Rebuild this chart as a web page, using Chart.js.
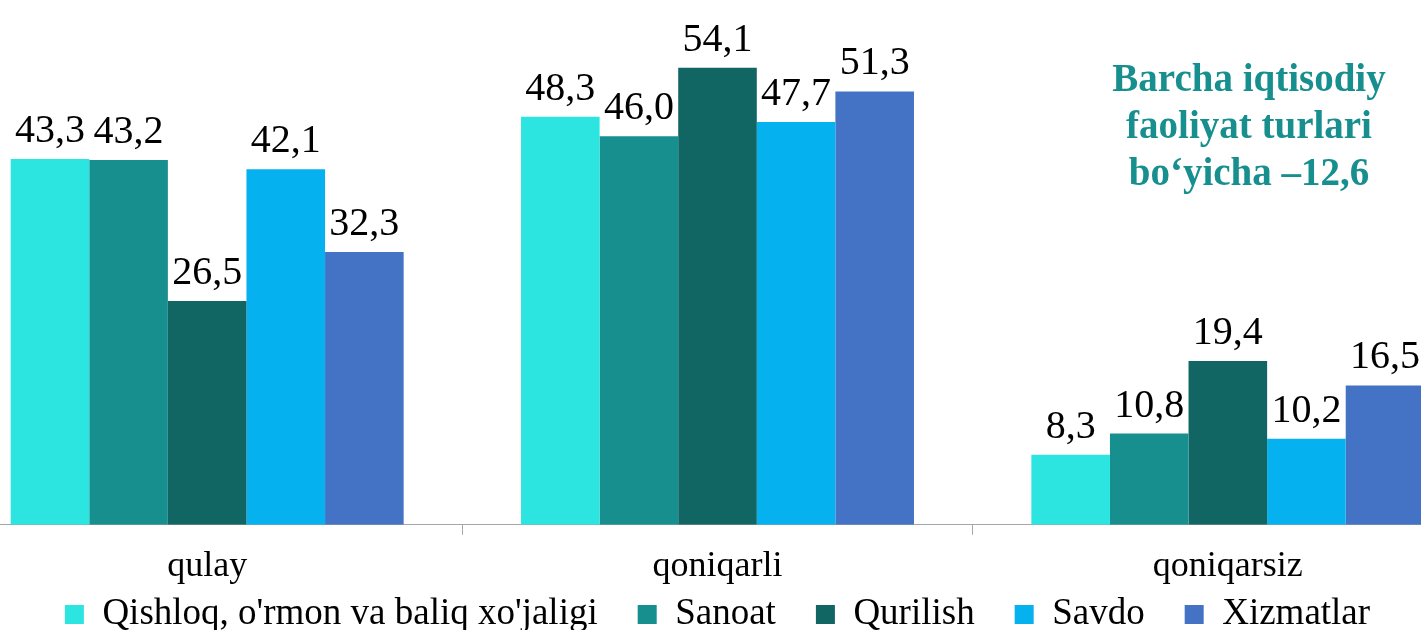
<!DOCTYPE html>
<html>
<head>
<meta charset="utf-8">
<script src="https://cdn.jsdelivr.net/npm/chart.js@4"></script>
<style>
  body { margin: 0; overflow: hidden; background: #fff; }
  #wrap { position: absolute; left: -48px; top: 0; width: 1531px; height: 685px; }
  #note {
    position: absolute; left: 1069px; top: 54px; width: 360px;
    font-family: "Liberation Serif", serif; font-weight: bold; font-size: 39px;
    line-height: 47px; color: #178f8e; text-align: center;
  }
</style>
</head>
<body>
<div id="wrap"><canvas id="myChart"></canvas></div>
<div id="note">Barcha iqtisodiy<br>faoliyat turlari<br>bo‘yicha –12,6</div>
<script>
const categories = ["qulay", "qoniqarli", "qoniqarsiz"];
const qishloq = [43.3, 48.3, 8.3];
const sanoat = [43.2, 46.0, 10.8];
const qurilish = [26.5, 54.1, 19.4];
const savdo = [42.1, 47.7, 10.2];
const xizmatlar = [32.3, 51.3, 16.5];

// value labels above bars, decimal comma
const valueLabels = {
  id: "valueLabels",
  afterDatasetsDraw(chart) {
    const ctx = chart.ctx;
    ctx.save();
    ctx.font = "40px 'Liberation Serif'";
    ctx.fillStyle = "#000";
    ctx.textAlign = "center";
    ctx.textBaseline = "alphabetic";
    chart.data.datasets.forEach((ds, i) => {
      chart.getDatasetMeta(i).data.forEach((bar, j) => {
        ctx.fillText(ds.data[j].toFixed(1).replace(".", ","), bar.x, bar.y - 17);
      });
    });
    ctx.restore();
  },
};

// pull the legend up closer to the axis labels (keeps wide item spacing)
const legendUp = {
  id: "legendUp",
  afterLayout(chart) {
    if (chart.legend) {
      chart.legend.top -= 42;
      chart.legend.bottom -= 42;
    }
  },
};

new Chart("myChart", {
  type: "bar",
  data: {
    labels: categories,
    datasets: [
      { label: "Qishloq, o'rmon va baliq xo'jaligi", data: qishloq, backgroundColor: "#2de5e0" },
      { label: "Sanoat", data: sanoat, backgroundColor: "#178f8e" },
      { label: "Qurilish", data: qurilish, backgroundColor: "#116563" },
      { label: "Savdo", data: savdo, backgroundColor: "#06b1ef" },
      { label: "Xizmatlar", data: xizmatlar, backgroundColor: "#4472c4" },
    ],
  },
  options: {
    responsive: true,
    maintainAspectRatio: false,
    animation: false,
    layout: { padding: { top: 18, left: 0, right: 0, bottom: 0 } },
    datasets: { bar: { barPercentage: 1, categoryPercentage: 0.77 } },
    scales: {
      x: {
        grid: { display: true, drawOnChartArea: false, drawTicks: true, tickLength: 10, color: "#a6a6a6", offset: true },
        border: { color: "#a6a6a6", width: 1 },
        ticks: { color: "#000", font: { family: "Liberation Serif", size: 36 }, padding: 10 },
      },
      y: { display: false, min: 0, max: 60 },
    },
    plugins: {
      legend: {
        position: "bottom",
        labels: {
          color: "#000",
          font: { family: "Liberation Serif", size: 37 },
          boxWidth: 19,
          boxHeight: 19,
          padding: 40,
        },
      },
      tooltip: { enabled: false },
    },
  },
  plugins: [valueLabels, legendUp],
});
</script>
</body>
</html>
